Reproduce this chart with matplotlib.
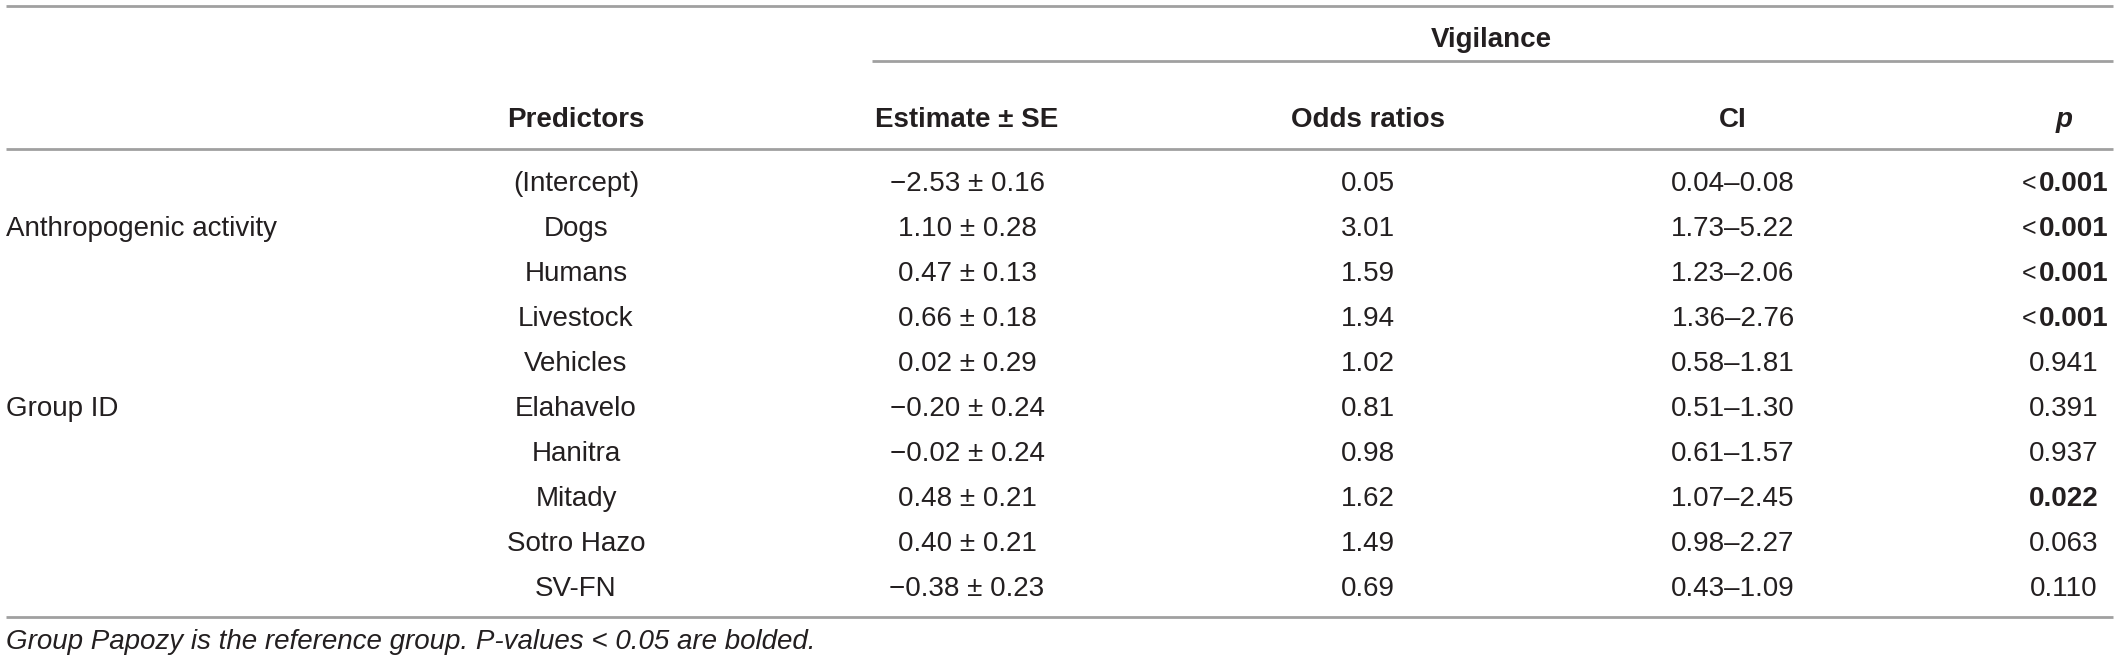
import matplotlib
matplotlib.use("Agg")
import matplotlib.pyplot as plt

# ---- data ----
groups = ["", "Anthropogenic activity", "", "", "", "Group ID", "", "", "", ""]
predictors = ["(Intercept)", "Dogs", "Humans", "Livestock", "Vehicles",
              "Elahavelo", "Hanitra", "Mitady", "Sotro Hazo", "SV-FN"]
estimates = ["\u22122.53 \u00b1 0.16", "1.10 \u00b1 0.28", "0.47 \u00b1 0.13", "0.66 \u00b1 0.18",
             "0.02 \u00b1 0.29", "\u22120.20 \u00b1 0.24", "\u22120.02 \u00b1 0.24", "0.48 \u00b1 0.21",
             "0.40 \u00b1 0.21", "\u22120.38 \u00b1 0.23"]
odds = ["0.05", "3.01", "1.59", "1.94", "1.02", "0.81", "0.98", "1.62", "1.49", "0.69"]
ci = ["0.04\u20130.08", "1.73\u20135.22", "1.23\u20132.06", "1.36\u20132.76", "0.58\u20131.81",
      "0.51\u20131.30", "0.61\u20131.57", "1.07\u20132.45", "0.98\u20132.27", "0.43\u20131.09"]
pvals = ["<0.001", "<0.001", "<0.001", "<0.001", "0.941", "0.391", "0.937", "0.022", "0.063", "0.110"]
significant = [True, True, True, True, False, False, False, True, False, False]
headers = ["Predictors", "Estimate \u00b1 SE", "Odds ratios", "CI", "p"]
span_title = "Vigilance"
footnote = "Group Papozy is the reference group. P-values < 0.05 are bolded."

# ---- layout ----
W, H = 2118, 662
fig = plt.figure(figsize=(W / 100, H / 100), dpi=100)
ax = fig.add_axes([0, 0, 1, 1])
ax.set_xlim(0, W)
ax.set_ylim(H, 0)
ax.axis("off")

FONT = "Liberation Sans"
fs = 20
txt_color = "#231f20"
line_color = "#a0a0a0"
lw = 2.0

x_group = 6
x_pred = 576
x_est = 967
x_odds = 1368
x_ci = 1733
x_p = 2064
x_p_right = 2108
x_span = 1491

y_top = 6
y_span = 37
y_span_line = 61
y_head = 117
y_head_line = 149
y_row0 = 181
dy = 45.0
y_bottom = 617
y_foot = 639

ax.plot([6, 2113], [y_top, y_top], color=line_color, lw=lw, solid_capstyle="butt")
ax.plot([872, 2113], [y_span_line, y_span_line], color=line_color, lw=lw, solid_capstyle="butt")
ax.plot([6, 2113], [y_head_line, y_head_line], color=line_color, lw=lw, solid_capstyle="butt")
ax.plot([6, 2113], [y_bottom, y_bottom], color=line_color, lw=lw, solid_capstyle="butt")

kw = dict(family=FONT, fontsize=fs, color=txt_color, va="center_baseline")
ax.text(x_span, y_span, span_title, ha="center", weight="bold", **kw)
ax.text(x_pred, y_head, headers[0], ha="center", weight="bold", **kw)
ax.text(x_est, y_head, headers[1], ha="center", weight="bold", **kw)
ax.text(x_odds, y_head, headers[2], ha="center", weight="bold", **kw)
ax.text(x_ci, y_head, headers[3], ha="center", weight="bold", **kw)
ax.text(x_p, y_head, headers[4], ha="center", weight="bold", style="italic", **kw)

fig.canvas.draw()
renderer = fig.canvas.get_renderer()
px_per_unit = fig.bbox.width / W

for i in range(len(predictors)):
    y = y_row0 + i * dy
    if groups[i]:
        ax.text(x_group, y, groups[i], ha="left", **kw)
    ax.text(x_pred, y, predictors[i], ha="center", **kw)
    ax.text(x_est, y, estimates[i], ha="center", **kw)
    ax.text(x_odds, y, odds[i], ha="center", **kw)
    ax.text(x_ci, y, ci[i], ha="center", **kw)
    pv = pvals[i]
    if significant[i] and pv.startswith("<"):
        t = ax.text(x_p_right, y, pv[1:], ha="right", weight="bold", **kw)
        w = t.get_window_extent(renderer).width / px_per_unit
        ax.text(x_p_right - w - 2, y, "<", ha="right",
                family=FONT, fontsize=fs - 2, color=txt_color, va="center_baseline")
    elif significant[i]:
        ax.text(x_p, y, pv, ha="center", weight="bold", **kw)
    else:
        ax.text(x_p, y, pv, ha="center", **kw)

ax.text(x_group, y_foot, footnote, ha="left", style="italic", **kw)

fig.savefig("out.png", dpi=100)
